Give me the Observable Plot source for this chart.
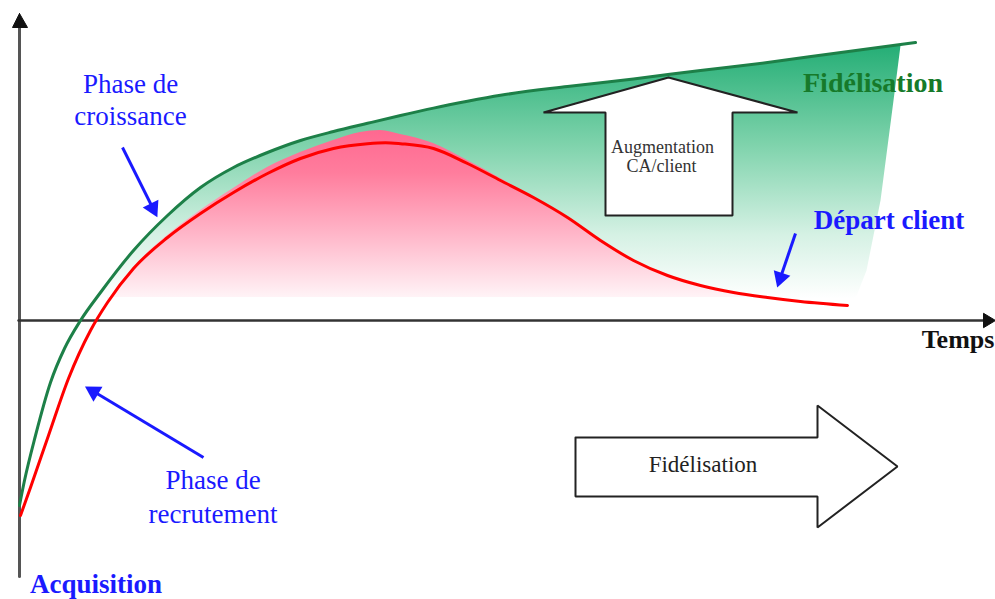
<!DOCTYPE html>
<html><head><meta charset="utf-8">
<script src="https://cdn.jsdelivr.net/npm/d3@7"></script>
<script src="https://cdn.jsdelivr.net/npm/@observablehq/plot@0.6"></script>
<style>html,body{margin:0;padding:0;background:#fff;} svg{display:block;}</style>
</head><body><div id="chart"></div>
<script>
// t = time (Temps), v = value; origin where the two axes cross
const greenCurve = [
  {t:0,v:-46.25},{t:0.5,v:-40},{t:1.6,v:-28.75},{t:3.1,v:-15.5},{t:4.5,v:-7},{t:6.1,v:0},
  {t:8.1,v:7},{t:11.4,v:17.5},{t:14.8,v:26.25},{t:18.1,v:33.25},{t:21.4,v:38.25},
  {t:24.8,v:42},{t:28.1,v:45},{t:31.4,v:47.25},{t:34.8,v:49.3},{t:38.1,v:51.25},
  {t:41.4,v:53.1},{t:44.8,v:54.8},{t:48.1,v:56.3},{t:54.8,v:58.5},{t:61.4,v:60.4},
  {t:68.1,v:62.5},{t:74.8,v:64.5},{t:81.4,v:66.75},{t:88.1,v:69},{t:89.6,v:69.5}
];
const redCurve = [
  {t:0.1,v:-48.75},{t:1.1,v:-41.75},{t:2.9,v:-28.75},{t:4.9,v:-14.5},{t:7.1,v:-2.5},
  {t:8.8,v:4.5},{t:11.4,v:13},{t:14.8,v:20.75},{t:18.1,v:26.75},{t:21.4,v:32},
  {t:24.8,v:36.75},{t:28.1,v:40.5},{t:31.4,v:43},{t:34.8,v:44.2},{t:36.6,v:44.45},{t:38.1,v:44.2},
  {t:41.4,v:43},{t:44.8,v:39.25},{t:48.1,v:35},{t:51.4,v:30.75},{t:54.8,v:25.75},
  {t:58.1,v:20},{t:61.4,v:15},{t:64.8,v:11.25},{t:68.1,v:8.75},{t:71.4,v:7},
  {t:74.8,v:5.75},{t:78.1,v:4.75},{t:82.8,v:3.75}
];
// upper edge of the pink (lost revenue) zone
const pinkTop = [
  {t:8.8,v:4.5},{t:11.4,v:13.25},{t:14.8,v:21.25},{t:18.1,v:27.5},{t:21.4,v:33},
  {t:24.8,v:38.25},{t:28.1,v:42},{t:31.4,v:45},{t:34.1,v:47},{t:36.1,v:47.5},
  {t:38.1,v:46.5},{t:41.4,v:44.25},{t:44.8,v:40},{t:48.1,v:35.5},{t:51.4,v:30.75},
  {t:54.8,v:25.75},{t:58.1,v:20},{t:61.4,v:15},{t:64.8,v:11.25},{t:68.1,v:8.75},
  {t:71.4,v:7},{t:74.8,v:5.75}
];
const fillBase = 5.75;
// right edge of the green (fidélisation) zone, top to bottom
const greenEdge = [
  {t:88.1,v:68.75},{t:87.4,v:55},{t:86.1,v:30},{t:84.7,v:12.5},{t:83.6,v:5.5}
];
const upArrowShape = [
  {t:58.6,v:26.25},{t:58.6,v:52},{t:52.4,v:52},{t:64.9,v:60.75},{t:77.8,v:52},
  {t:71.3,v:52},{t:71.3,v:26.25},{t:58.6,v:26.25}
];
const rightArrowShape = [
  {t:55.6,v:-29.25},{t:79.8,v:-29.25},{t:79.8,v:-21.25},{t:87.8,v:-36.5},
  {t:79.8,v:-51.75},{t:79.8,v:-44},{t:55.6,v:-44},{t:55.6,v:-29.25}
];
const yAxisLine = [{t:0,v:-64},{t:0,v:73.5}];
const yAxisHead = [{t:0,v:76.75},{t:-0.7,v:73.25},{t:0.8,v:73.25},{t:0,v:76.75}];
const xAxisLine = [{t:-0.1,v:0},{t:96.4,v:0}];
const xAxisHead = [{t:97.6,v:0},{t:96.4,v:1.8},{t:96.4,v:-1.8},{t:97.6,v:0}];
const blueArrows = [
  {t1:10.3,v1:43.25,t2:13.6,v2:26.75},
  {t1:18.4,v1:-34.25,t2:6.9,v2:-17},
  {t1:77.6,v1:21.75,t2:75.9,v2:9.25}
];
const blueLabels = [
  {text:"Phase de",t:11.1,v:59.15},{text:"croissance",t:11.1,v:51.15},
  {text:"Phase de",t:19.35,v:-39.85},{text:"recrutement",t:19.35,v:-48.35}
];
const blueBoldLabels = [
  {text:"Départ client",t:86.95,v:25.15},{text:"Acquisition",t:7.65,v:-65.85}
];
const greenLabels = [{text:"Fidélisation",t:85.35,v:59.25}];
const axisLabels = [{text:"Temps",t:93.85,v:-4.9}];
const upArrowText = [{text:"Augmentation",t:64.3,v:43.2},{text:"CA/client",t:64.2,v:38.45}];
const rightArrowText = [{text:"Fidélisation",t:68.35,v:-36.15}];

const greenFill = [{t:7.8,v:fillBase}, ...greenCurve.filter(d => d.t >= 8), ...greenEdge, {t:7.8,v:fillBase}];

// pixel size of one unit on each scale (see domains / margins below)
const pxT = 10, pxV = 4;
// clockwise angle (deg) of each arrow, measured from "up" on screen
const headDeg = d => Math.atan2((d.t2 - d.t1) * pxT, (d.v2 - d.v1) * pxV) * 180 / Math.PI;
const headBack = 6; // triangle centre sits this many px behind the tip
const headX = d => { const a = headDeg(d) * Math.PI / 180; return d.t2 - headBack * Math.sin(a) / pxT; };
const headY = d => { const a = headDeg(d) * Math.PI / 180; return d.v2 - headBack * Math.cos(a) / pxV; };

const serif = "Liberation Serif, Times New Roman, serif";
const blue = "#1a1aff";

const chart = Plot.plot({
  width: 995, height: 599,
  marginLeft: 19, marginRight: 0, marginTop: 12, marginBottom: 23,
  x: {domain: [0, 97.6], axis: null},
  y: {domain: [-64, 77], axis: null},
  style: {background: "#fff", overflow: "visible"},
  marks: [
    Plot.line(greenFill, {x:"t", y:"v", fill:"url(#greenGrad)", stroke:"none", curve:"linear"}),
    Plot.areaY(pinkTop, {x:"t", y1: fillBase, y2:"v", fill:"url(#pinkGrad)", curve:"monotone-x"}),
    Plot.line(yAxisLine, {x:"t", y:"v", stroke:"#555", strokeWidth:3}),
    Plot.line(yAxisHead, {x:"t", y:"v", fill:"#111", stroke:"#111", strokeWidth:1}),
    Plot.line(xAxisLine, {x:"t", y:"v", stroke:"#333", strokeWidth:2.5}),
    Plot.line(xAxisHead, {x:"t", y:"v", fill:"#111", stroke:"#111", strokeWidth:1}),
    Plot.line(greenCurve, {x:"t", y:"v", stroke:"#1d8048", strokeWidth:3, curve:"monotone-x"}),
    Plot.line(redCurve, {x:"t", y:"v", stroke:"#ff0000", strokeWidth:3, curve:"monotone-x"}),
    Plot.line(upArrowShape, {x:"t", y:"v", fill:"#fff", stroke:"#222", strokeWidth:2, curve:"linear", strokeLinejoin:"miter"}),
    Plot.line(rightArrowShape, {x:"t", y:"v", fill:"#fff", stroke:"#222", strokeWidth:2, curve:"linear", strokeLinejoin:"miter"}),
    Plot.link(blueArrows, {x1:"t1", y1:"v1", x2:headX, y2:headY, stroke: blue, strokeWidth:3}),
    Plot.dot(blueArrows, {x:headX, y:headY, symbol:"triangle", r:6.5, fill: blue, stroke:"none", rotate: headDeg}),
    Plot.text(blueLabels, {x:"t", y:"v", text:"text", fill: blue, fontSize:27, fontFamily: serif}),
    Plot.text(blueBoldLabels, {x:"t", y:"v", text:"text", fill: blue, fontSize:27, fontWeight:"bold", fontFamily: serif}),
    Plot.text(greenLabels, {x:"t", y:"v", text:"text", fill:"#167a2a", fontSize:28, fontWeight:"bold", fontFamily: serif}),
    Plot.text(axisLabels, {x:"t", y:"v", text:"text", fill:"#111", fontSize:26, fontWeight:"bold", fontFamily: serif}),
    Plot.text(upArrowText, {x:"t", y:"v", text:"text", fill:"#333", fontSize:18, fontFamily: serif}),
    Plot.text(rightArrowText, {x:"t", y:"v", text:"text", fill:"#222", fontSize:23, fontFamily: serif})
  ]
});

const defs = d3.select(chart).insert("defs", ":first-child");
const gg = defs.append("linearGradient").attr("id","greenGrad").attr("x1",0).attr("y1",0).attr("x2",0).attr("y2",1);
[[0,"#22ad74"],[0.4,"#7fd3ac"],[0.75,"#d5f1e4"],[1,"#ffffff"]].forEach(([o,c]) => gg.append("stop").attr("offset",o).attr("stop-color",c));
const pg = defs.append("linearGradient").attr("id","pinkGrad").attr("x1",0).attr("y1",0).attr("x2",0).attr("y2",1);
[[0,"#ff6890"],[0.25,"#ff7d9d"],[0.6,"#ffb5c8"],[1,"#fff8fa"]].forEach(([o,c]) => pg.append("stop").attr("offset",o).attr("stop-color",c));

document.getElementById("chart").appendChild(chart);
</script>
</body></html>
